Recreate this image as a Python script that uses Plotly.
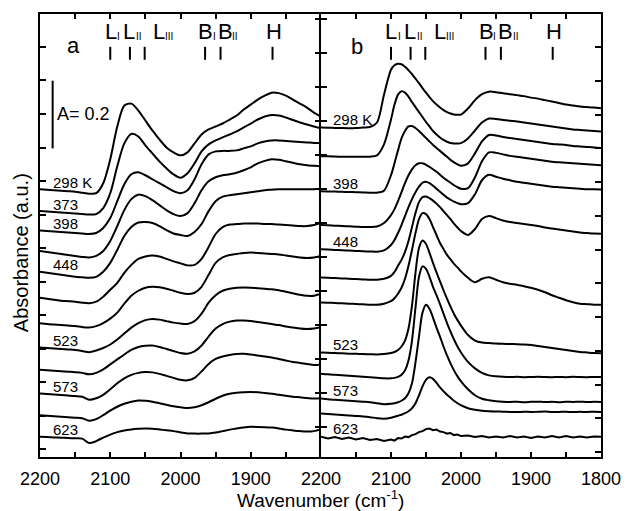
import plotly.graph_objects as go

# ---------------- data ----------------
temps = [298, 373, 398, 423, 448, 473, 498, 523, 548, 573, 598, 623]
labeled_a = [298, 373, 398, 448, 523, 573, 623]
labeled_b = [298, 398, 448, 523, 573, 623]

# wavenumber grids (cm-1)
wn_a = [2200, 2190, 2180, 2170, 2160, 2150, 2140, 2130, 2120, 2110, 2100, 2090, 2080, 2070,
        2060, 2050, 2040, 2030, 2020, 2010, 2000, 1990, 1980, 1970, 1960, 1950, 1940, 1930,
        1920, 1910, 1900, 1890, 1880, 1870, 1860, 1850, 1840, 1830, 1820, 1810, 1800]
wn_b = [2200, 2190, 2180, 2170, 2160, 2150, 2140, 2130, 2120, 2110,
        2100, 2095, 2090, 2085, 2080, 2075, 2070, 2065, 2060, 2055, 2050, 2045, 2040, 2035,
        2030, 2025, 2020, 2015, 2010, 2005,
        2000, 1990, 1980, 1970, 1960, 1950, 1940, 1930, 1920, 1910, 1900, 1890, 1880, 1870,
        1860, 1850, 1840, 1830, 1820, 1810, 1800]

# panel a: stacked absorbance (arbitrary units, offsets included; 68 units = A 0.2)
a_298 = [269, 268.5, 268, 267.5, 267, 266.5, 265.5, 264.5, 265, 275, 299, 332, 353, 355, 348, 338,
         328, 319, 311, 306, 303, 306, 315, 324, 329, 332, 335, 339, 343, 349, 354, 359, 363, 366,
         365.5, 363, 359, 355, 351, 346, 342]
a_373 = [247, 246.5, 246, 245.5, 245, 244.5, 244, 243.5, 244, 250, 265, 292, 315, 324.5, 322, 313,
         305, 297, 290, 284, 280.5, 285, 295, 307, 314, 318, 321, 324, 327, 331, 335, 339, 342,
         343.5, 343, 341, 338.5, 336, 334, 332, 330.3]
a_398 = [227.5, 227, 226.5, 226, 225.5, 225, 224.5, 224, 225, 230, 240, 257, 274, 284, 286, 283,
         279, 275, 271, 267, 265, 268, 279, 294, 304, 307, 307.5, 307.5, 308, 310, 312, 315, 317,
         318, 318, 317.5, 317, 316.5, 316, 315.5, 315.3]
a_423 = [207, 206, 205, 204, 203, 202, 201, 200.5, 202, 207, 217, 232, 248, 259, 263.5, 262, 258,
         253, 248, 244, 242, 245, 255, 268, 277, 281, 283, 284, 285.5, 288, 291, 295, 297.5, 299,
         298.5, 297, 295.5, 294, 293, 292.5, 292]
a_448 = [186, 185, 184, 183, 182, 181, 180.5, 180, 181, 186, 195, 208, 222, 231, 235.5, 236, 235,
         232, 228, 224.5, 223, 222, 226, 234, 247, 257, 261.5, 263, 264, 265, 266, 267, 268, 268.5,
         269, 269, 269, 269, 269, 269, 269.5]
a_473 = [160, 159, 158, 157, 156.5, 156, 155, 154.5, 156, 161, 168, 175, 185, 193, 199, 201.5,
         202.5, 201.5, 199, 196.5, 194.5, 192.5, 193, 199, 211, 224, 231, 233.5, 234, 234.5, 234.5,
         234.5, 234, 234, 233.5, 233, 232.5, 232, 232, 233, 235]
a_498 = [134.3, 133.5, 133, 132.5, 132, 131.5, 130.5, 130, 131.5, 134.5, 139, 145, 154, 162, 167,
         170, 171, 170.5, 169, 167, 165, 163.7, 165, 171, 183, 195, 200.5, 203, 204, 205, 205.3,
         205, 204.5, 204, 203.5, 202.5, 201.5, 200.5, 200, 200.5, 202]
a_523 = [110, 109.5, 109, 108.5, 108, 107.5, 106.5, 105.3, 107, 109.5, 113, 118, 124, 130, 134.5,
         137.5, 138.7, 138, 136.5, 135, 134, 133.7, 136.5, 144, 155, 162.5, 167, 169, 170, 170.3,
         170, 169.5, 169, 168.5, 167.5, 166, 164.5, 163, 162, 162, 164]
a_548 = [87.7, 87.2, 86.7, 86.2, 85.7, 85.2, 84.5, 83, 84.5, 88, 93, 98, 103, 107.5, 110.5, 111.7,
         112, 110.5, 108.5, 106.5, 104.5, 103.7, 106, 112, 121, 129, 133.5, 136, 137, 137, 136.5,
         135.5, 134.5, 133.5, 132.5, 131, 130, 129, 128.5, 129, 130.3]
a_573 = [63.7, 63.2, 62.7, 62.2, 61.7, 61.2, 60.5, 57.5, 59, 62.5, 68, 74, 79, 82.5, 84.5, 85.3,
         85, 83.5, 81.5, 79.5, 77.5, 77, 79.5, 86, 93.5, 98.5, 101, 102.5, 103.5, 103.7, 103, 102,
         101, 100, 98.5, 97, 95.5, 94.5, 93.5, 92.5, 93]
a_598 = [42, 41.5, 41, 40.5, 40, 39.5, 39, 36.5, 38, 42, 46.5, 50.5, 53.5, 55.5, 56.7, 56.5, 55.5,
         54, 52.5, 51, 50, 49.3, 50, 52, 55, 58.5, 61.5, 63.5, 64.5, 65, 65.3, 65, 64.3, 63.5, 62.5,
         61.5, 60.5, 60, 59.3, 58.7, 59]
a_623 = [20.3, 20, 19.7, 19.4, 19.1, 18.8, 18.5, 14, 16, 19.5, 22.5, 25, 26.7, 27.7, 28.3, 28.7,
         28.5, 27.7, 26.8, 26, 24.7, 23.7, 23.5, 23.5, 23.7, 24.5, 26, 27.5, 28.7, 29.7, 30.3, 30.2,
         30, 29.6, 28.7, 27.5, 26.7, 26, 25.5, 26, 28]

# panel b
b_298 = [331, 330.8, 330.6, 330.4, 330.3, 330.5, 331, 331.5, 336, 364,
         389, 393.5, 395, 394.5, 392, 388.5, 384.5, 380, 375.5, 370.5, 366, 361.5, 357.5, 354,
         351, 348.5, 346.5, 345, 344, 343.7,
         344, 350, 358.5, 364.5, 367, 366.5, 365.3, 364.5, 363.5, 362.5, 361, 360, 358.5, 357,
         355.5, 354, 353, 352, 351.5, 351, 350.3]
b_373 = [302, 302, 301.8, 301.6, 301.5, 301.5, 301.5, 301.7, 303, 314,
         339, 354, 364, 367.5, 366, 362, 356.5, 351.5, 346.5, 341.5, 336.5, 332, 327.5, 324,
         321, 318.5, 316.7, 315.5, 315, 315,
         315.3, 320, 328, 336, 340, 339.5, 338.5, 337.7, 337, 336, 335, 334, 333, 332, 331, 330,
         329, 328.5, 328, 327.5, 327]
b_398 = [267, 266.8, 266.6, 266.4, 266.2, 266, 265.8, 265.5, 265.5, 267.5,
         283, 295, 308, 320, 327.5, 332, 332.5, 330.5, 327.5, 324, 320.5, 317, 313.5, 310.5,
         307.5, 304.5, 301.5, 298.5, 296, 294,
         292.5, 295, 305, 317, 323.5, 323, 321.5, 320.5, 319.5, 318.5, 317.5, 316.5, 315.5,
         314.5, 314, 313.5, 312.5, 312, 311.5, 311, 310.3]
b_423 = [233, 232.7, 232.4, 232, 231.7, 231.4, 231, 231, 231.5, 235,
         243, 249, 257, 266, 275, 283, 289, 293, 295, 295, 293.5, 291.5, 289, 286.5, 283.5,
         280.5, 278, 275.5, 273, 271,
         269.5, 270, 281, 297, 306, 305.5, 304, 302.5, 301.5, 300.5, 299.5, 298.5, 297.5,
         296.5, 296, 295.5, 295, 294.5, 294, 293.5, 293]
b_448 = [208.7, 208.4, 208, 207.7, 207.4, 207, 206.7, 206.4, 206.2, 207.5,
         213, 218, 225, 233, 242, 251, 259, 266, 271.5, 275.5, 276.5, 275, 272.5, 269.5, 266.5,
         263.5, 260.5, 258.5, 256.5, 255,
         254, 255, 264, 278, 283.5, 281.5, 279.5, 278, 276.5, 275.5, 274.5, 273.5, 272.5,
         271.5, 271, 270.5, 270, 269.5, 269, 269, 268.7]
b_473 = [180.3, 180, 179.7, 179.4, 179, 178.7, 178.4, 178, 178, 179,
         182, 186, 192, 198, 206, 217, 231, 245, 256, 261, 261.7, 260, 257.5, 254.5, 251, 247,
         243, 239, 234.5, 230.5,
         227, 223, 229, 239, 242, 240, 237.5, 236, 235, 234, 233, 232, 230.5, 229.5, 228.5,
         227.5, 226.5, 225.5, 225, 224.5, 224.3]
b_498 = [155.3, 155, 154.7, 154.4, 154, 153.7, 153.4, 153, 153, 154,
         156.5, 159.5, 164, 170, 179, 192, 208, 225, 239, 245, 244, 239, 231, 223, 215, 209,
         203, 198.5, 194, 190.5,
         186.5, 180, 175.5, 179, 180.5, 178, 175.5, 174, 173, 171.5, 170, 168, 165.5, 162.5,
         160, 157.5, 155.5, 154, 153.5, 153, 153]
b_523 = [105, 104.7, 104.4, 104.1, 103.8, 103.6, 103.4, 103.2, 103, 103.5,
         104.5, 105.5, 107.5, 111, 117, 129, 152, 185, 210, 217.5, 214, 205, 195, 185.5, 176.5,
         167.5, 159, 151, 143.7, 137.5,
         132, 122.5, 117, 115, 114.5, 114, 113.7, 113.5, 113.3, 113, 112.5, 111.5, 110.5,
         109.5, 108.5, 107.5, 106.5, 105.5, 105, 104.5, 104.3]
b_548 = [83.7, 83, 82.5, 82, 81.5, 81, 80.5, 80, 79.5, 79,
         79, 79.5, 80.5, 82.5, 87, 97, 117, 150, 181, 191.5, 189, 181, 171, 162.5, 153.5, 144,
         134.5, 126, 118, 111,
         105, 95.5, 89, 84.5, 82, 81, 80.5, 80.3, 80.5, 80.2, 80.4, 80.6, 80.3, 80.1, 80.4,
         80.2, 80.5, 80.3, 80.2, 80.4, 80.3]
b_573 = [58.7, 58, 57.5, 57, 56.5, 56, 55.5, 55, 54, 53,
         53.5, 54, 55, 56.5, 59, 64, 74, 95, 121, 145, 153, 149, 140, 130, 121, 111, 102, 94,
         87, 81,
         76, 68, 62, 58.5, 57, 56, 55.5, 55.3, 55.5, 55.1, 55.4, 55.6, 55.2, 55.4, 55.1, 55.5,
         55.3, 55.6, 55.2, 55.4, 55.3]
b_598 = [43.7, 43.2, 42.7, 42.2, 41.7, 41.2, 40.7, 40, 39, 38.5,
         39.5, 40.5, 41.5, 42.5, 44, 46, 49, 54, 62, 71, 77.5, 80, 78.5, 74.5, 70, 66, 62.5,
         59.5, 56.5, 54,
         52, 49, 47.5, 46.5, 46, 45.7, 45.5, 45.3, 45.1, 45.5, 45.2, 45.4, 45.6, 45.2, 45.3,
         45.5, 45.1, 45.4, 45.2, 45.5, 45.3]
b_623 = [20.3, 18.5, 20, 18, 19.5, 17.5, 19, 17, 18, 16,
         17.5, 16.5, 19, 18.5, 20.5, 20, 22, 23, 25, 26, 28, 28.5, 27, 27.5, 25.5, 25, 23.5, 24,
         22, 22.5,
         21, 21.5, 20, 21, 19.5, 20.5, 19.5, 21, 19.5, 20.5, 19, 20.5, 19.5, 21, 19.5, 21, 19.5,
         20.5, 19.5, 20.5, 20.3]

spectra_a = [a_298, a_373, a_398, a_423, a_448, a_473, a_498, a_523, a_548, a_573, a_598, a_623]
spectra_b = [b_298, b_373, b_398, b_423, b_448, b_473, b_498, b_523, b_548, b_573, b_598, b_623]

# band assignments
band_main = ["L", "L", "L", "B", "B", "H"]
band_sub = ["I", "II", "III", "I", "II", ""]
band_wn = [2100, 2072, 2051, 1965, 1943, 1869]       # marker positions
band_label_wn = [2111, 2084, 2042, 1977.5, 1949.5, 1881]  # left edge of label text

scale_bar = 68   # height of A = 0.2 in the plot units

# ---------------- figure ----------------
FONT = "Liberation Sans, Arial, sans-serif"
fig = go.Figure()
for s in spectra_a:
    fig.add_trace(go.Scatter(x=wn_a, y=s, mode="lines", xaxis="x", yaxis="y",
                             line=dict(color="black", width=2, shape="spline", smoothing=0.8),
                             showlegend=False, hoverinfo="skip"))
for t, s in zip(temps, spectra_b):
    shape = "linear" if t == 623 else "spline"
    fig.add_trace(go.Scatter(x=wn_b, y=s, mode="lines", xaxis="x2", yaxis="y2",
                             line=dict(color="black", width=2, shape=shape, smoothing=0.8),
                             showlegend=False, hoverinfo="skip"))
# dummy traces so the overlaying tick axes are drawn
fig.add_trace(go.Scatter(x=[], y=[], xaxis="x", yaxis="y3", showlegend=False))
fig.add_trace(go.Scatter(x=[], y=[], xaxis="x2", yaxis="y4", showlegend=False))

split = 285 / 569
tv = [2200, 2150, 2100, 2050, 2000, 1950, 1900, 1850, 1800]
tt_a = ["2200", "", "2100", "", "2000", "", "1900", "", ""]
tt_b = ["2200", "", "2100", "", "2000", "", "1900", "", "1800"]
xcommon = dict(range=[2200, 1800], tickmode="array", tickvals=tv, ticks="inside", ticklen=5,
               tickwidth=1.5, tickcolor="black", showline=True, linewidth=2, linecolor="black",
               mirror="ticks", showgrid=False, zeroline=False, ticklabelstandoff=4,
               tickfont=dict(family=FONT, size=18, color="black"))
ycommon = dict(range=[0, 445], tickmode="linear", ticks="inside", ticklen=6, tickwidth=1.5,
               tickcolor="black", showticklabels=False, showgrid=False, zeroline=False)

fig.update_layout(
    width=633, height=511,
    margin=dict(l=40, r=24, t=12, b=54),
    paper_bgcolor="white", plot_bgcolor="white",
    font=dict(family=FONT, color="black"),
    xaxis=dict(domain=[0, split], anchor="y", ticktext=tt_a, **xcommon),
    xaxis2=dict(domain=[split, 1], anchor="y2", ticktext=tt_b, **xcommon),
    yaxis=dict(anchor="x", tick0=7.6, dtick=33.7, showline=True, linewidth=2,
               linecolor="black", mirror=False, **ycommon),
    yaxis3=dict(anchor="x", overlaying="y", side="right", tick0=30, dtick=34.2,
                showline=False, **ycommon),
    yaxis2=dict(anchor="x2", tick0=30, dtick=34.2, showline=True, linewidth=2,
                linecolor="black", mirror=True, **ycommon),
    yaxis4=dict(anchor="x2", overlaying="y2", side="right", tick0=4.8, dtick=33.9,
                showline=False, **ycommon),
)

ann = []
shapes = []
# band markers and labels on both panels
for xr, yr in (("x", "y"), ("x2", "y2")):
    for m, sub, w, wl in zip(band_main, band_sub, band_wn, band_label_wn):
        shapes.append(dict(type="line", xref=xr, yref=yr, x0=w, x1=w, y0=399, y1=412,
                           line=dict(color="black", width=2)))
        ann.append(dict(x=wl, y=427, xref=xr, yref=yr, text=m, showarrow=False,
                        xanchor="left", yanchor="middle",
                        font=dict(family=FONT, size=22, color="black")))
        if sub:
            ann.append(dict(x=wl, y=422, xref=xr, yref=yr, text=sub, showarrow=False,
                            xanchor="left", yanchor="middle",
                            xshift=(12.5 if m == "L" else 14.5),
                            font=dict(family=FONT, size=10, color="black")))

ann.append(dict(x=2152.6, y=413, xref="x", yref="y", text="a", showarrow=False,
                xanchor="center", yanchor="middle", font=dict(family=FONT, size=22)))
ann.append(dict(x=2148, y=412, xref="x2", yref="y2", text="b", showarrow=False,
                xanchor="center", yanchor="middle", font=dict(family=FONT, size=22)))

# scale bar
shapes.append(dict(type="line", xref="x", yref="y", x0=2182, x1=2182, y0=310,
                   y1=310 + scale_bar, line=dict(color="black", width=2)))
ann.append(dict(x=2178, y=345, xref="x", yref="y", text="A= 0.2", showarrow=False,
                xanchor="left", yanchor="middle", font=dict(family=FONT, size=18)))

# temperature labels
for t, s in zip(temps, spectra_a):
    if t in labeled_a:
        ann.append(dict(x=2184, y=s[0], xref="x", yref="y", yshift=7,
                        text=(f"{t} K" if t == 298 else str(t)), showarrow=False,
                        xanchor="left", yanchor="middle", font=dict(family=FONT, size=15)))
for t, s in zip(temps, spectra_b):
    if t in labeled_b:
        ann.append(dict(x=2186, y=s[0], xref="x2", yref="y2", yshift=8,
                        text=(f"{t} K" if t == 298 else str(t)), showarrow=False,
                        xanchor="left", yanchor="middle", font=dict(family=FONT, size=15)))

# axis titles
ann.append(dict(x=0.5, y=0, xref="paper", yref="paper", yshift=-42, yanchor="middle",
                xanchor="center", text="Wavenumber (cm<sup>-1</sup>)", showarrow=False,
                font=dict(family=FONT, size=19)))
ann.append(dict(x=-0.0334, y=0.4607, xref="paper", yref="paper", textangle=-90,
                xanchor="center", yanchor="middle", text="Absorbance (a.u.)",
                showarrow=False, font=dict(family=FONT, size=20)))

fig.update_layout(annotations=ann, shapes=shapes)
fig.write_html("out.html", config={"displayModeBar": False},
               post_script="document.body.style.margin='0px';"
                           "document.body.style.overflow='hidden';")
